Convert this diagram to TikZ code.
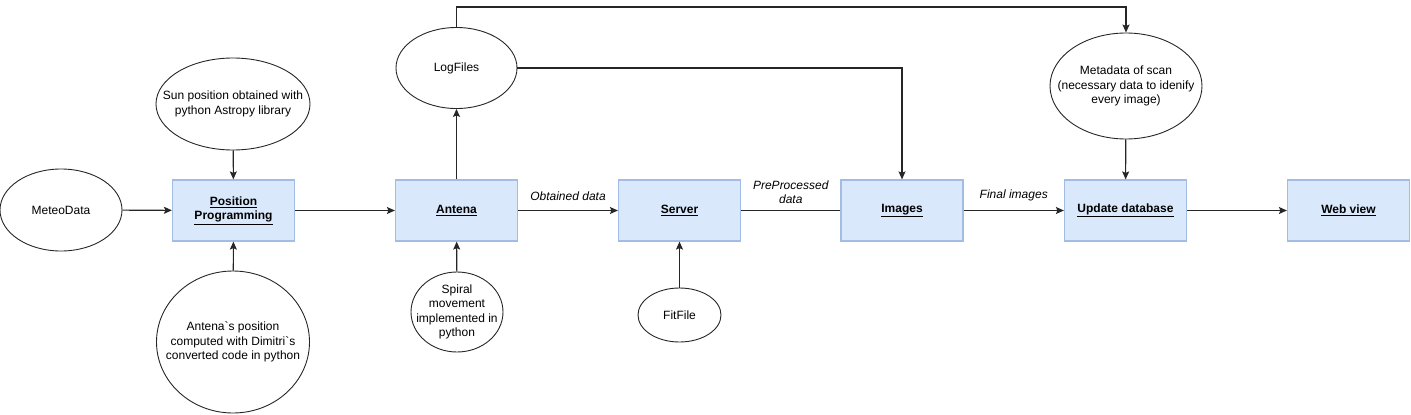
\documentclass[tikz,border=0pt]{standalone}
\usepackage{fontspec}
\setmainfont{Liberation Sans}[Ligatures=TeXOff]
\usetikzlibrary{arrows.meta,shapes.geometric,positioning}

\begin{document}
\begin{tikzpicture}[x=1pt,y=-1pt,
    font=\fontsize{12}{14.5}\selectfont,
    procbox/.style={draw=boxline, fill=boxfill, line width=1.2pt,
      minimum width=122pt, minimum height=61pt, inner sep=0pt,
      align=center, font=\fontsize{12}{14.5}\selectfont\bfseries},
    blob/.style={draw=black!85, ellipse, line width=0.9pt, inner sep=0pt},
    txt/.style={align=center, inner sep=0pt},
    lbl/.style={font=\fontsize{12}{14.5}\selectfont\itshape, align=center, inner sep=0pt},
    arr/.style={draw=black!85, line width=1.1pt, -{Stealth[length=8pt,width=7pt,inset=1.5pt]}},
    plain/.style={draw=black!85, line width=1.1pt}]
    \definecolor{boxfill}{HTML}{DAE8FC}
    \definecolor{boxline}{HTML}{A2BCE3}
    \useasboundingbox (0,0) rectangle (1411,415);
    % main chain of process boxes
    \foreach \n/\x/\t in {posprog/233.5/{\underline{Position}\\\underline{Programming}},
        antena/456.5/{\underline{Antena}}, server/679.5/{\underline{Server}},
        images/902/{\underline{Images}}, update/1125.5/{\underline{Update database}},
        webview/1348.5/{\underline{Web view}}}
      \node[procbox] (\n) at (\x,210.5) {\t};
    % inputs and outputs
    \node[blob, minimum width=122pt, minimum height=82pt,
      label={[txt]center:MeteoData}] (meteo) at (61,210) {};
    \node[blob, minimum width=154pt, minimum height=92pt,
      label={[txt]center:{Sun position obtained with\\python Astropy library}}] (sun) at (233,104) {};
    \node[blob, minimum width=153pt, minimum height=142pt,
      label={[txt]center:{Antena`s position\\computed with Dimitri`s\\converted code in python}}] (antpos) at (233,342) {};
    \node[blob, minimum width=121pt, minimum height=81pt,
      label={[txt]center:LogFiles}] (logfiles) at (456.5,68) {};
    \node[blob, minimum width=92pt, minimum height=80pt,
      label={[txt]center:{Spiral\\movement\\implemented in\\python}}] (spiral) at (457,312) {};
    \node[blob, minimum width=83pt, minimum height=54pt,
      label={[txt]center:FitFile}] (fitfile) at (679.5,315) {};
    \node[blob, minimum width=152pt, minimum height=106pt,
      label={[txt]center:{Metadata of scan\\(necessary data to idenify\\every image)}}] (metadata) at (1126,86) {};
    \coordinate (topline) at (0,7);
    % connectors
    \draw[arr] (meteo) -- (posprog);
    \draw[arr] (sun) -- (posprog);
    \draw[arr] (antpos) -- (posprog);
    \draw[arr] (posprog) -- (antena);
    \draw[arr] (antena) -- (logfiles);
    \draw[arr] (spiral) -- (antena);
    \draw[arr] (antena) -- node[lbl, above=9pt] {Obtained data} (server);
    \draw[arr] (fitfile) -- (server);
    \draw[plain] (server) -- node[lbl, above=6pt] {PreProcessed\\data} (images);
    \draw[arr] (images) -- node[lbl, above=9pt] {Final images} (update);
    \draw[arr] (metadata) -- (update);
    \draw[arr] (update) -- (webview);
    \draw[arr] (logfiles.east) -| (images.north);
    \draw[arr] (logfiles.north) -- (logfiles.north |- topline) -| (metadata.north);
\end{tikzpicture}
\end{document}
